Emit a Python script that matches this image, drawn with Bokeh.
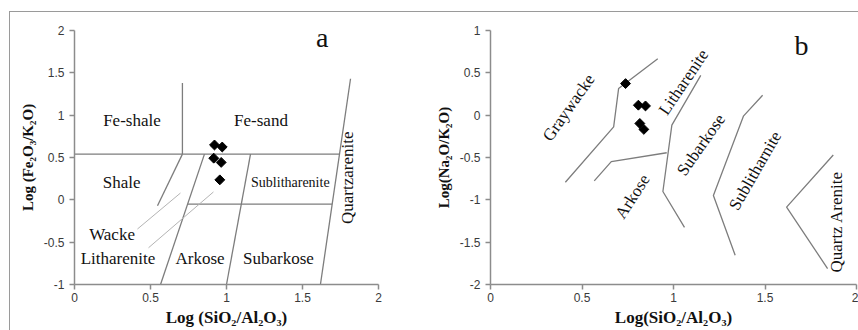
import math
from bokeh.plotting import figure
from bokeh.layouts import row
from bokeh.models import FixedTicker, NumeralTickFormatter, Range1d
from bokeh.core.properties import value
from bokeh.embed import file_html
from bokeh.resources import INLINE

# ---------------- Panel a data ----------------
a_x_ticks = [0, 0.5, 1, 1.5, 2]
a_x_tick_labels = ["0", "0.5", "1", "1.5", "2"]
a_y_ticks = [-1, -0.5, 0, 0.5, 1, 1.5, 2]
a_y_tick_labels = ["-1", "-0.5", "0", "0.5", "1", "1.5", "2"]

a_sample_x = [0.921, 0.972, 0.916, 0.965, 0.956]
a_sample_y = [0.648, 0.624, 0.492, 0.442, 0.236]

# field boundaries (log SiO2/Al2O3, log Fe2O3/K2O)
a_bound_xs = [[0.71, 0.71], [0.0, 1.744], [1.816, 1.618], [0.71, 0.546],
              [0.855, 0.566], [1.158, 1.0], [0.744, 1.695]]
a_bound_ys = [[1.38, 0.54], [0.54, 0.54], [1.43, -1.0], [0.54, -0.07],
              [0.54, -1.0], [0.54, -1.0], [-0.05, -0.05]]
a_pointer_xs = [[0.697, 0.414], [0.914, 0.487]]
a_pointer_ys = [[0.08, -0.345], [0.093, -0.566]]

a_fields = ["Fe-shale", "Fe-sand", "Shale", "Wacke", "Litharenite", "Arkose", "Subarkose"]
a_field_x = [0.378, 1.227, 0.31, 0.247, 0.286, 0.826, 1.342]
a_field_y = [0.94, 0.94, 0.20, -0.41, -0.69, -0.69, -0.69]

# ---------------- Panel b data ----------------
b_x_ticks = [0, 0.5, 1, 1.5, 2]
b_x_tick_labels = ["0", "0.5", "1", "1.5", "2"]
b_y_ticks = [-2, -1.5, -1, -0.5, 0, 0.5, 1]
b_y_tick_labels = ["-2", "-1.5", "-1", "-0.5", "0", "0.5", "1"]

b_sample_x = [0.738, 0.808, 0.847, 0.816, 0.838]
b_sample_y = [0.373, 0.118, 0.109, -0.098, -0.168]

b_bound_xs = [[0.914, 0.70, 0.673, 0.409],
              [0.567, 0.660, 0.963],
              [1.149, 0.991, 0.942, 1.060],
              [1.487, 1.382, 1.218, 1.337],
              [1.873, 1.618, 1.842]]
b_bound_ys = [[0.667, 0.314, -0.138, -0.792],
              [-0.776, -0.549, -0.444],
              [0.47, -0.118, -0.902, -1.326],
              [0.235, -0.012, -0.949, -1.655],
              [-0.471, -1.086, -1.812]]

b_fields = ["Graywacke", "Litharenite", "Subarkose", "Arkose", "Sublitharnite", "Quartz Arenite"]
b_field_x = [0.427, 1.055, 1.15, 0.776, 1.446, 1.89]
b_field_y = [0.09, 0.39, -0.35, -0.96, -0.655, -1.26]
b_field_angle_deg = [55, 56, 55, 57, 60, 90]

SERIF = "Liberation Serif"
SANS = "Liberation Sans"
AXIS_GRAY = "#8c8c8c"
LINE_GRAY = "#7d7d7d"


def style_axes(p, xt, xl, yt, yl, xlabel, ylabel):
    p.xaxis.ticker = FixedTicker(ticks=xt)
    p.yaxis.ticker = FixedTicker(ticks=yt)
    p.xaxis.formatter = NumeralTickFormatter(format="0.[0]")
    p.yaxis.formatter = NumeralTickFormatter(format="0.[0]")
    p.xaxis.major_label_overrides = {t: l for t, l in zip(xt, xl)}
    p.yaxis.major_label_overrides = {t: l for t, l in zip(yt, yl)}
    p.xaxis.axis_label = xlabel
    p.yaxis.axis_label = ylabel
    for ax in (p.xaxis[0], p.yaxis[0]):
        ax.axis_line_color = AXIS_GRAY
        ax.axis_line_width = 1.5
        ax.major_tick_line_color = AXIS_GRAY
        ax.major_tick_line_width = 1.5
        ax.major_tick_out = 5
        ax.major_tick_in = 0
        ax.minor_tick_line_color = None
        ax.major_label_text_font = SANS
        ax.major_label_text_font_size = "12px"
        ax.major_label_text_color = "#3a3a3a"
        ax.axis_label_text_font = SERIF
        ax.axis_label_text_font_style = "bold"
        ax.axis_label_text_color = "#111111"
    p.xaxis.axis_label_text_font_size = "17px"
    p.yaxis.axis_label_text_font_size = "15px"
    p.xaxis.axis_label_standoff = 3
    p.yaxis.axis_label_standoff = 5
    p.xaxis.major_label_standoff = 3
    p.yaxis.major_label_standoff = 5
    p.xgrid.grid_line_color = None
    p.ygrid.grid_line_color = None
    p.outline_line_color = None


# ---------------- Panel a ----------------
pa = figure(width=420, height=318, output_backend="svg", toolbar_location=None,
            x_range=Range1d(0, 2), y_range=Range1d(-1, 2),
            min_border_left=64, min_border_right=52, min_border_top=14, min_border_bottom=46,
            background_fill_color="white", border_fill_color="white")
style_axes(pa, a_x_ticks, a_x_tick_labels, a_y_ticks, a_y_tick_labels,
           "Log (SiO\u2082/Al\u2082O\u2083)", "Log (Fe\u2082O\u2083/K\u2082O)")

pa.multi_line(xs=a_bound_xs, ys=a_bound_ys, line_color=LINE_GRAY, line_width=1.3)
pa.multi_line(xs=a_pointer_xs, ys=a_pointer_ys, line_color="#b4b4b4", line_width=1)
pa.scatter(a_sample_x, a_sample_y, marker="square", size=7, angle=math.pi / 4,
           fill_color="black", line_color="black")
pa.text(x=a_field_x, y=a_field_y, text=a_fields, text_align="center", text_baseline="middle",
        text_font=value(SERIF), text_font_size="17px", text_color="#111111")
pa.text(x=[1.42], y=[0.20], text=["Sublitharenite"], text_align="center", text_baseline="middle",
        text_font=value(SERIF), text_font_size="14px", text_color="#111111")
pa.text(x=[1.794], y=[0.26], text=["Quartzarenite"], angle=math.pi / 2,
        text_align="center", text_baseline="middle",
        text_font=value(SERIF), text_font_size="17px", text_color="#111111")
pa.text(x=[1.63], y=[1.92], text=["a"], text_align="center", text_baseline="middle",
        text_font=value(SERIF), text_font_size="28px", text_color="#111111")

# ---------------- Panel b ----------------
pb = figure(width=428, height=318, output_backend="svg", toolbar_location=None,
            x_range=Range1d(0, 2), y_range=Range1d(-2, 1),
            min_border_left=60, min_border_right=2, min_border_top=18, min_border_bottom=45,
            background_fill_color="white", border_fill_color="white")
style_axes(pb, b_x_ticks, b_x_tick_labels, b_y_ticks, b_y_tick_labels,
           "Log(SiO\u2082/Al\u2082O\u2083)", "Log(Na\u2082O/K\u2082O)")

pb.multi_line(xs=b_bound_xs, ys=b_bound_ys, line_color=LINE_GRAY, line_width=1.3)
pb.scatter(b_sample_x, b_sample_y, marker="square", size=7, angle=math.pi / 4,
           fill_color="black", line_color="black")
pb.text(x=b_field_x, y=b_field_y, text=b_fields,
        angle=[math.radians(a) for a in b_field_angle_deg],
        text_align="center", text_baseline="middle",
        text_font=value(SERIF), text_font_size="17px", text_color="#111111")
pb.text(x=[1.70], y=[0.82], text=["b"], text_align="center", text_baseline="middle",
        text_font=value(SERIF), text_font_size="28px", text_color="#111111")

layout = row(pa, pb, margin=(11, 0, 0, 9),
             styles={"border-top": "1px solid #9a9a9a", "border-left": "1px solid #9a9a9a"})

open("out.html", "w").write(file_html(layout, INLINE))
